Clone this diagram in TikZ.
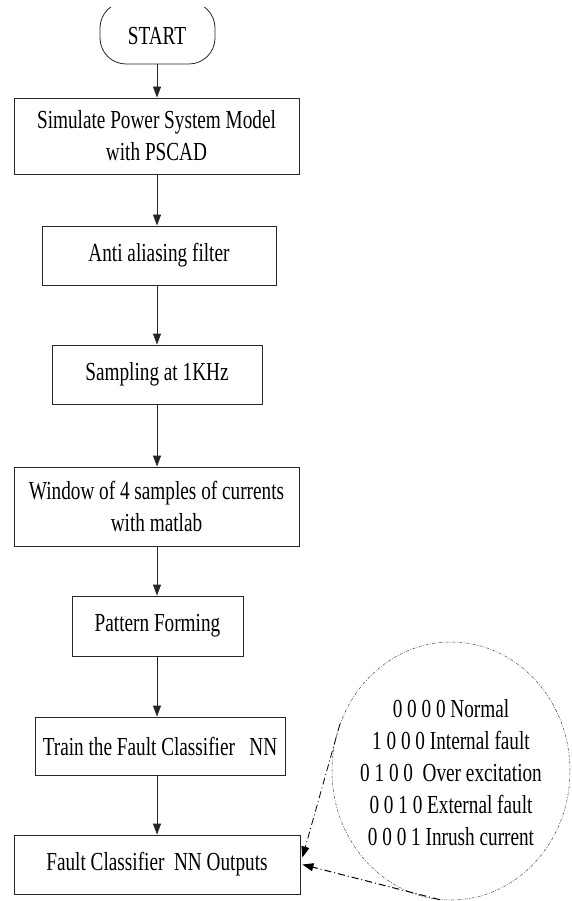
\documentclass[tikz,border=0pt]{standalone}
\usepackage{fontspec}
\usetikzlibrary{arrows.meta,shapes.geometric}
\newfontfamily\timfont[FakeStretch=0.74]{Liberation Serif}
\begin{document}
\begin{tikzpicture}[x=1pt,y=-1pt,
  every node/.style={font=\timfont\fontsize{26}{32}\selectfont, text=black},
  stepbox/.style={draw=black!85, line width=0.8pt, inner sep=0pt, align=center},
  flow/.style={draw=black!85, line width=0.8pt, -{Triangle[length=11pt,width=8pt]}},
  callout/.style={line width=0.8pt, dash pattern=on 7pt off 3pt on 1pt off 3pt, -{Triangle[length=11pt,width=8pt]}}
]
\useasboundingbox (0,0) rectangle (571,901);

% START terminal (top edge cut off by the page)
\begin{scope}
  \clip (0,8) rectangle (571,100);
  \draw[draw=black!85, line width=0.8pt, rounded corners=26pt] (100,2) rectangle (215,64);
\end{scope}
\node[minimum width=115, minimum height=56, inner sep=0pt] (start) at (157,36) {START};

\coordinate (spine) at (157,0);

\node[stepbox, minimum width=285, minimum height=76] (b1) at (156.5,136) {Simulate Power System Model\\with PSCAD};
\node[stepbox, minimum width=234, minimum height=59] (b2) at (159,255.5) {Anti aliasing filter};
\node[stepbox, minimum width=210, minimum height=59] (b3) at (157,374.5) {Sampling at 1KHz};
\node[stepbox, minimum width=285, minimum height=79] (b4) at (156.5,506.5) {Window of 4 samples of currents\\with matlab};
\node[stepbox, minimum width=171, minimum height=60] (b5) at (157.5,626) {Pattern Forming};
\node[stepbox, minimum width=250, minimum height=58] (b6) at (160,746) {Train the Fault Classifier\ \ \ NN};
\node[stepbox, minimum width=286, minimum height=59] (b7) at (157,864.5) {Fault Classifier\ \ NN Outputs};

\draw[flow] (start.south -| spine) -- (b1.north -| spine);
\draw[flow] (b1.south -| spine) -- (b2.north -| spine);
\draw[flow] (b2.south -| spine) -- (b3.north -| spine);
\draw[flow] (b3.south -| spine) -- (b4.north -| spine);
\draw[flow] (b4.south -| spine) -- (b5.north -| spine);
\draw[flow] (b5.south -| spine) -- (b6.north -| spine);
\draw[flow] (b6.south -| spine) -- (b7.north -| spine);

% legend ellipse
\node[ellipse, draw=black!70, line width=0.5pt, dash pattern=on 3pt off 1.5pt on 0.8pt off 1.5pt,
      minimum width=238, minimum height=258, inner sep=0pt] (legend) at (451,771) {};
\node[align=center, inner sep=0pt] (codes) at (451,773) {%
0 0 0 0 Normal\\
1 0 0 0 Internal fault\\
0 1 0 0\ \ Over excitation\\
0 0 1 0 External fault\\
0 0 0 1 Inrush current};

\coordinate (tipA) at ([xshift=2pt,yshift=7pt]b7.east);
\coordinate (tipB) at ([xshift=2pt]b7.east);
\draw[callout] (legend.157) -- (tipA);
\draw[callout, line width=1pt] (legend.265) -- (tipB);
\end{tikzpicture}
\end{document}
